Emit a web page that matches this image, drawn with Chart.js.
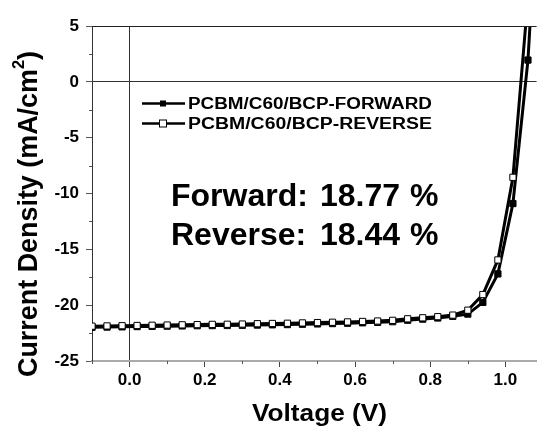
<!DOCTYPE html>
<html>
<head>
<meta charset="utf-8">
<script src="https://cdn.jsdelivr.net/npm/chart.js@4.4.0/dist/chart.umd.min.js"></script>
<style>
  html, body { margin: 0; padding: 0; background: #fff; }
</style>
</head>
<body>
<canvas id="jv" width="542" height="430"></canvas>
<script>
// J-V データ (電圧 V / 電流密度 mA/cm2)
const voltage = [-0.10, -0.06, -0.02, 0.02, 0.06, 0.10, 0.14, 0.18, 0.22, 0.26,
                 0.30, 0.34, 0.38, 0.42, 0.46, 0.50, 0.54, 0.58, 0.62, 0.66,
                 0.70, 0.74, 0.78, 0.82, 0.86, 0.90, 0.94, 0.98, 1.02, 1.06, 1.10];
const forwardJ = [-21.98, -21.96, -21.94, -21.92, -21.90, -21.88, -21.86, -21.84, -21.83, -21.82,
                  -21.80, -21.78, -21.76, -21.74, -21.71, -21.68, -21.65, -21.62, -21.58, -21.54,
                  -21.48, -21.35, -21.25, -21.15, -21.00, -20.80, -19.75, -17.20, -10.90, 1.95, 25.0];
const reverseJ = [-21.88, -21.86, -21.84, -21.82, -21.80, -21.78, -21.76, -21.74, -21.72, -21.71,
                  -21.69, -21.66, -21.64, -21.62, -21.59, -21.56, -21.53, -21.50, -21.46, -21.42,
                  -21.36, -21.22, -21.13, -21.03, -20.89, -20.45, -19.05, -15.95, -8.55, 7.5, null];

// 目盛り
const xMajorTicks = [0.0, 0.2, 0.4, 0.6, 0.8, 1.0];
const xMinorTicks = [-0.1, 0.1, 0.3, 0.5, 0.7, 0.9];
const yMajorTicks = [-25, -20, -15, -10, -5, 0, 5];
const yMinorTicks = [-22.5, -17.5, -12.5, -7.5, -2.5, 2.5];

// テキスト
const legendLabels = ['PCBM/C60/BCP-FORWARD', 'PCBM/C60/BCP-REVERSE'];
const efficiencyLines = ['Forward: 18.77 %', 'Reverse: 18.44 %'];
const xTitle = 'Voltage (V)';
const yTitle = ['Current Density (mA/cm', '2', ')'];

const FONT = '"Liberation Sans", Arial, sans-serif';
Chart.defaults.font.family = FONT;
Chart.defaults.font.weight = 'bold';
Chart.defaults.color = '#000';

function toPoints(ys) {
    return voltage.map((v, i) => ({ x: v, y: ys[i] }));
}

// 横方向に伸縮して指定幅に合わせて描く
function fitText(ctx, text, x, y, size, width) {
    ctx.font = 'bold ' + size + 'px ' + FONT;
    const w = ctx.measureText(text).width;
    ctx.save();
    ctx.translate(x, y);
    ctx.scale(width / w, 1);
    ctx.textAlign = 'left';
    ctx.textBaseline = 'alphabetic';
    ctx.fillText(text, 0, 0);
    ctx.restore();
}

// 単語ごとの左端を指定して描く
function wordText(ctx, words, starts, y, size) {
    ctx.font = 'bold ' + size + 'px ' + FONT;
    ctx.textAlign = 'left';
    ctx.textBaseline = 'alphabetic';
    words.forEach((w, i) => ctx.fillText(w, starts[i], y));
}

function hline(ctx, x1, x2, y) {
    ctx.beginPath(); ctx.moveTo(x1, y); ctx.lineTo(x2, y); ctx.stroke();
}
function vline(ctx, x, y1, y2) {
    ctx.beginPath(); ctx.moveTo(x, y1); ctx.lineTo(x, y2); ctx.stroke();
}

const decorPlugin = {
    id: 'decor',
    afterDraw(chart) {
        const { ctx, chartArea: a, scales: { x, y } } = chart;
        ctx.save();
        ctx.strokeStyle = '#222';
        ctx.lineWidth = 1;
        // 上枠
        hline(ctx, a.left, a.right, Math.round(a.top) + 0.5);
        // 副目盛り
        ctx.strokeStyle = '#555';
        yMinorTicks.forEach(v => {
            const py = Math.round(y.getPixelForValue(v)) + 0.5;
            hline(ctx, a.left - 3, a.left, py);
        });
        xMinorTicks.forEach(v => {
            const px = Math.round(x.getPixelForValue(v)) + 0.5;
            vline(ctx, px, a.bottom, a.bottom + 3);
        });

        // 凡例
        [0, 1].forEach(i => {
            const ly = 103.5 + i * 20;
            ctx.strokeStyle = '#000';
            ctx.lineWidth = 2.5;
            hline(ctx, 142, 185, ly);
            ctx.lineWidth = 1;
            if (i === 0) {
                ctx.fillStyle = '#000';
                ctx.fillRect(160, ly - 3, 6, 6);
            } else {
                ctx.fillStyle = '#fff';
                ctx.fillRect(159.5, ly - 3.5, 7, 7);
                ctx.strokeRect(159.5, ly - 3.5, 7, 7);
            }
            ctx.fillStyle = '#000';
            fitText(ctx, legendLabels[i], 188, ly + 5, 16, 244);
        });

        // 効率
        const w0 = efficiencyLines[0].split(' ');
        const w1 = efficiencyLines[1].split(' ');
        wordText(ctx, w0, [171, 320, 410], 206, 32);
        wordText(ctx, w1, [171, 320, 410], 245, 32);

        // X軸タイトル
        fitText(ctx, xTitle, 252, 421, 24, 135);

        // Y軸タイトル (上付き2)
        ctx.save();
        ctx.translate(37, 377);
        ctx.rotate(-Math.PI / 2);
        ctx.font = 'bold 28px ' + FONT;
        const t0 = ctx.measureText(yTitle[0]).width;
        ctx.font = 'bold 17px ' + FONT;
        const t1 = ctx.measureText(yTitle[1]).width;
        ctx.font = 'bold 28px ' + FONT;
        const t2 = ctx.measureText(yTitle[2]).width;
        const s = 326 / (t0 + t1 + t2);
        ctx.scale(s, 1);
        ctx.textBaseline = 'alphabetic';
        ctx.fillText(yTitle[0], 0, 0);
        ctx.font = 'bold 17px ' + FONT;
        ctx.fillText(yTitle[1], t0, -13);
        ctx.font = 'bold 28px ' + FONT;
        ctx.fillText(yTitle[2], t0 + t1, 0);
        ctx.restore();

        ctx.restore();
    }
};

const zeroLine = c => (c.tick && c.tick.value === 0) ? '#333' : 'rgba(0,0,0,0)';

new Chart(document.getElementById('jv').getContext('2d'), {
    type: 'line',
    data: {
        datasets: [
            {
                label: legendLabels[1],
                data: toPoints(reverseJ),
                borderColor: '#000',
                borderWidth: 3,
                tension: 0,
                pointStyle: 'rect',
                pointRadius: 4.4,
                pointBackgroundColor: '#fff',
                pointBorderColor: '#000',
                pointBorderWidth: 1,
                order: 0,
                clip: 0
            },
            {
                label: legendLabels[0],
                data: toPoints(forwardJ),
                borderColor: '#000',
                borderWidth: 3,
                tension: 0,
                pointStyle: 'rect',
                pointRadius: 4.4,
                pointBackgroundColor: '#000',
                pointBorderColor: '#000',
                pointBorderWidth: 1,
                order: 1,
                clip: 0
            }
        ]
    },
    options: {
        responsive: false,
        animation: false,
        layout: { padding: { top: 26, right: 0, left: 0, bottom: 0 } },
        plugins: {
            legend: { display: false },
            tooltip: { enabled: false }
        },
        scales: {
            x: {
                type: 'linear',
                min: -0.1,
                max: 1.083,
                afterBuildTicks: s => { s.ticks = xMajorTicks.map(v => ({ value: v })); },
                afterFit: s => { s.height = 69; },
                ticks: {
                    callback: v => v.toFixed(1),
                    font: { size: 17, weight: 'bold' },
                    padding: 3,
                    maxRotation: 0
                },
                grid: { color: zeroLine, tickColor: '#444', tickLength: 6, lineWidth: 1 },
                border: { color: '#aaa', width: 2 }
            },
            y: {
                min: -25,
                max: 5,
                afterBuildTicks: s => { s.ticks = yMajorTicks.map(v => ({ value: v })); },
                afterFit: s => { s.width = 92; },
                ticks: {
                    callback: v => String(v),
                    font: { size: 17, weight: 'bold' },
                    padding: 7
                },
                grid: { color: zeroLine, tickColor: '#555', tickLength: 6, lineWidth: 1 },
                border: { color: '#333', width: 1 }
            }
        }
    },
    plugins: [decorPlugin]
});
</script>
</body>
</html>
